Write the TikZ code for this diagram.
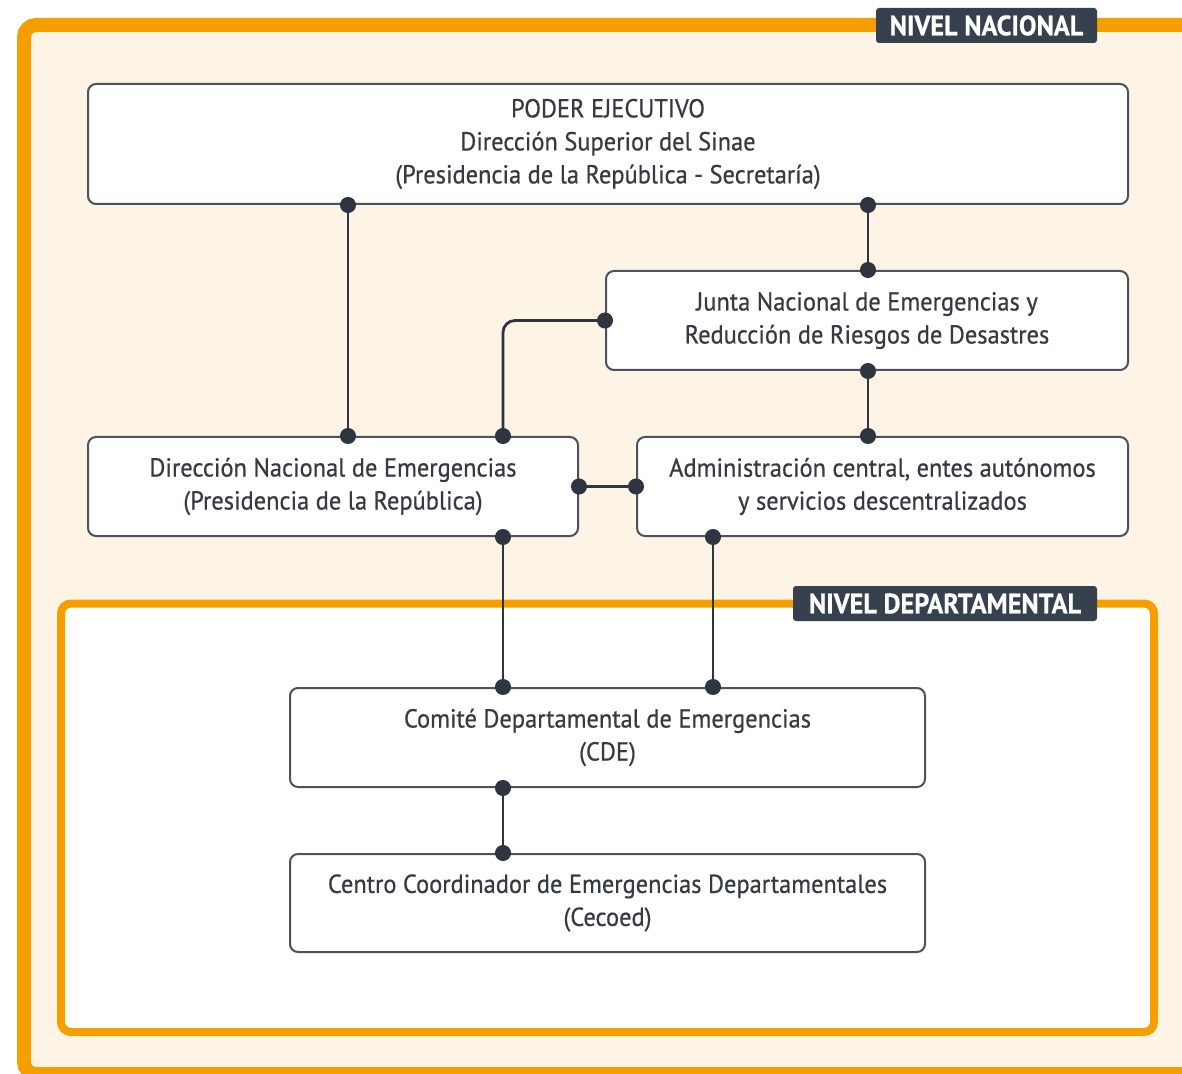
\documentclass[tikz,border=0pt]{standalone}
\usepackage{fontspec}
\setmainfont[FakeStretch=0.94,FakeBold=0.6]{PT Sans}
\usetikzlibrary{arrows.meta}
\definecolor{frameorange}{HTML}{F59E00}
\definecolor{cream}{HTML}{FDF4E6}
\definecolor{boxline}{HTML}{4C515A}
\definecolor{linkcol}{HTML}{2E3440}
\definecolor{tagcol}{HTML}{37404D}
\definecolor{textcol}{HTML}{363A42}
\tikzstyle{unit}=[rectangle,draw=boxline,line width=1pt,rounded corners=4pt,fill=white,align=center,text=textcol,font=\fontsize{13pt}{16.5pt}\selectfont,inner sep=0pt]
\tikzstyle{tag}=[rectangle,fill=tagcol,rounded corners=1.5pt,text=white,font=\fontsize{14pt}{15pt}\selectfont\bfseries,inner sep=0pt]
\tikzstyle{link}=[draw=linkcol,line width=1.4pt,{Circle[length=8pt]}-{Circle[length=8pt]},shorten <=-4pt,shorten >=-4pt]

\begin{document}
\begin{tikzpicture}[x=0.5pt,y=-0.5pt]
		\useasboundingbox (0,0) rectangle (1182,1074);
		\clip (0,0) rectangle (1182,1074);

		% frames
		\draw[frameorange,fill=cream,line width=7pt,rounded corners=6pt] (24,25) rectangle (1205,1074);
		\draw[frameorange,fill=white,line width=4pt,rounded corners=5pt] (61,603.5) rectangle (1154,1032);
		\node[tag,minimum width=110.5pt,minimum height=17.5pt] (nacional) at (986.5,25.5) {NIVEL NACIONAL};
		\node[tag,minimum width=152pt,minimum height=17.5pt] (departamental) at (945,603.5) {NIVEL DEPARTAMENTAL};

		% columns of the links
		\coordinate (c1) at (348,0);
		\coordinate (c2) at (503,0);
		\coordinate (c3) at (713,0);
		\coordinate (c4) at (868,0);

		\node[unit,minimum width=520pt,minimum height=60pt] (poder) at (608,144) {PODER EJECUTIVO\\Dirección Superior del Sinae\\(Presidencia de la República - Secretaría)};
		\node[unit,minimum width=261pt,minimum height=49.5pt] (junta) at (867,320.5) {Junta Nacional de Emergencias y\\Reducción de Riesgos de Desastres};
		\node[unit,minimum width=245pt,minimum height=49.5pt] (dirnac) at (333,486.5) {Dirección Nacional de Emergencias\\(Presidencia de la República)};
		\node[unit,minimum width=245.5pt,minimum height=49.5pt] (admin) at (882.5,486.5) {Administración central, entes autónomos\\y servicios descentralizados};
		\node[unit,minimum width=317.5pt,minimum height=49.5pt] (comite) at (607.5,737.5) {Comité Departamental de Emergencias\\(CDE)};
		\node[unit,minimum width=317.5pt,minimum height=49pt] (centro) at (607.5,903) {Centro Coordinador de Emergencias Departamentales\\(Cecoed)};

		\draw[link] (poder.south -| c1) -- (dirnac.north -| c1);
		\draw[link] (poder.south -| c4) -- (junta.north -| c4);
		\draw[link,rounded corners=6pt] (junta.west) -| (dirnac.north -| c2);
		\draw[link] (junta.south -| c4) -- (admin.north -| c4);
		\draw[link] (dirnac.east) -- (admin.west);
		\draw[link] (dirnac.south -| c2) -- (comite.north -| c2);
		\draw[link] (admin.south -| c3) -- (comite.north -| c3);
		\draw[link] (comite.south -| c2) -- (centro.north -| c2);
	\end{tikzpicture}
\end{document}
